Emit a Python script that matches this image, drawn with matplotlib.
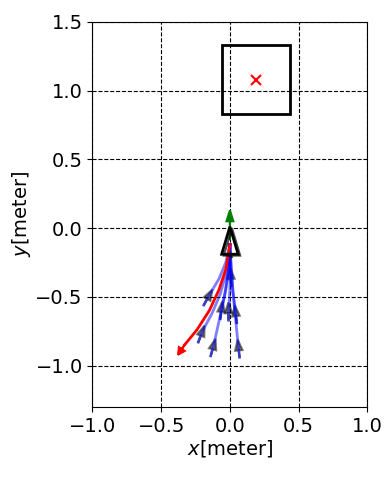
import numpy as np
import matplotlib
matplotlib.use('Agg')
import matplotlib.pyplot as plt

# goal box and goal point
goal_x = 0.19
goal_y = 1.08
box_size = 0.5

# candidate trajectories (blue) sampled by the planner
blue_trajs = [
    [(0.0, -0.12), (-0.03, -0.25), (-0.08, -0.37), (-0.14, -0.47), (-0.19, -0.56)],
    [(0.0, -0.12), (-0.02, -0.30), (-0.07, -0.48), (-0.13, -0.62), (-0.20, -0.75), (-0.23, -0.83)],
    [(0.0, -0.12), (-0.01, -0.30), (-0.04, -0.50), (-0.08, -0.68), (-0.12, -0.86), (-0.14, -0.93)],
    [(0.0, -0.12), (-0.01, -0.30), (-0.03, -0.45), (-0.06, -0.58), (-0.07, -0.66)],
    [(0.0, -0.12), (0.0, -0.30), (0.0, -0.45), (-0.01, -0.60), (-0.01, -0.67)],
    [(0.0, -0.12), (0.01, -0.30), (0.02, -0.45), (0.04, -0.60), (0.05, -0.69)],
    [(0.0, -0.12), (0.01, -0.30), (0.03, -0.55), (0.05, -0.75), (0.07, -0.94)],
    [(0.0, -0.12), (0.0, -0.25), (0.01, -0.42)],
]

# chosen trajectory (red)
red_traj = [(0.0, -0.12), (-0.03, -0.30), (-0.08, -0.45), (-0.15, -0.60), (-0.24, -0.74), (-0.33, -0.85)]

# robot pose
robot_x = 0.0
robot_y = 0.0


def draw_heading_arrow(ax, x, y, dx, dy, color, alpha, length=0.13):
    n = np.hypot(dx, dy)
    ax.arrow(x, y, dx / n * length, dy / n * length, color=color, alpha=alpha,
             head_width=0.055, head_length=0.08, length_includes_head=True, lw=1.5, zorder=4)


fig = plt.figure(figsize=(3.91, 4.78), dpi=100)
ax = fig.add_axes([0.235, 0.149, 0.706, 0.805])

# goal
ax.plot(goal_x, goal_y, 'x', color='r', ms=7, mew=1.5)
ax.add_patch(plt.Rectangle((goal_x - box_size / 2, goal_y - box_size / 2), box_size, box_size,
                           fill=False, ec='k', lw=2))

# candidates
for traj in blue_trajs:
    t = np.array(traj)
    dx = t[-2, 0] - t[-1, 0]
    dy = t[-2, 1] - t[-1, 1]
    draw_heading_arrow(ax, t[-1, 0], t[-1, 1], dx, dy, 'k', 0.5)
    ax.plot(t[:, 0], t[:, 1], color='b', alpha=0.5, lw=2, zorder=5)

# chosen
r = np.array(red_traj)
ax.plot(r[:, 0], r[:, 1], color='r', lw=2, zorder=6)
ax.arrow(r[-1, 0], r[-1, 1], -0.02, -0.03, color='r', head_width=0.05,
         head_length=0.05, length_includes_head=False, lw=1.5, zorder=6)

# robot
ax.arrow(robot_x, robot_y - 0.08, 0.0, 0.13, color='g', head_width=0.05, head_length=0.08,
         length_includes_head=False, lw=1.5, zorder=7)
ax.arrow(robot_x, robot_y - 0.2, 0.0, 0.01, fill=False, ec='k', head_width=0.12, head_length=0.2,
         lw=2, zorder=8)
ax.arrow(robot_x + 0.015, robot_y - 0.21, 0.0, 0.01, fill=False, ec='k', head_width=0.12, head_length=0.2,
         lw=1.5, alpha=0.7, zorder=8)

ax.set_xlim(-1.0, 1.0)
ax.set_ylim(-1.3, 1.5)
ax.set_aspect('equal')
ax.set_xticks([-1.0, -0.5, 0.0, 0.5, 1.0])
ax.set_yticks([-1.0, -0.5, 0.0, 0.5, 1.0, 1.5])
ax.tick_params(labelsize=14)
ax.grid(True, ls='--', color='k', lw=0.8)
ax.set_xlabel('$x$[meter]', fontsize=14, labelpad=2)
ax.set_ylabel('$y$[meter]', fontsize=14, labelpad=2)

fig.savefig('out.png', dpi=100)
